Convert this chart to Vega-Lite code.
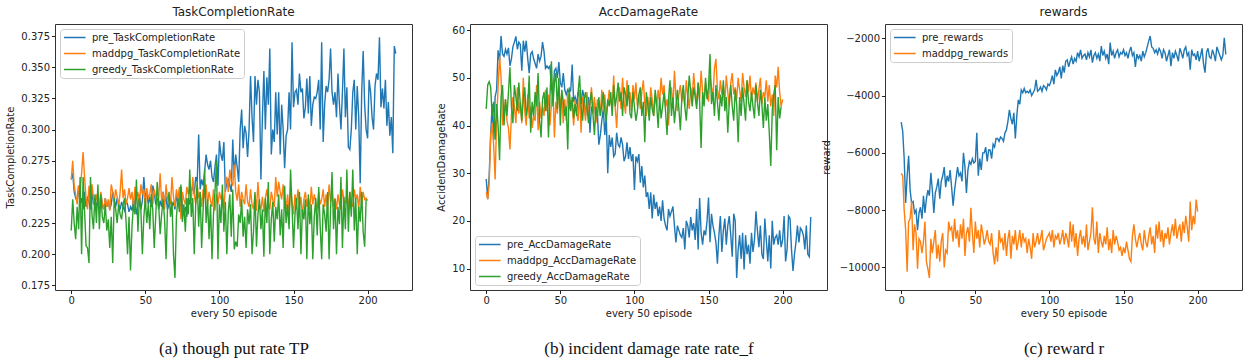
{
"$schema": "https://vega.github.io/schema/vega-lite/v6.json",
"background": "white",
"padding": {"left": 5, "top": 5, "right": 2, "bottom": 2},
"bounds": "flush",
"spacing": 58,
"resolve": {"scale": {"color": "independent"}, "legend": {"color": "independent"}},
"config": {
  "font": "DejaVu Sans",
  "view": {"stroke": "#333333", "strokeWidth": 1},
  "axis": {"grid": false, "domain": false, "tickColor": "#222222", "tickSize": 3.5, "labelFontSize": 10, "labelColor": "#222222", "titleFontSize": 10, "titleFontWeight": "normal", "titleColor": "#222222", "labelPadding": 2},
  "title": {"fontSize": 12, "fontWeight": "normal", "color": "#222222", "frame": "group", "anchor": "middle", "offset": 5},
  "legend": {"title": null, "offset": 5, "padding": 3, "fillColor": "rgba(255,255,255,0.85)", "strokeColor": "#cccccc", "cornerRadius": 3, "symbolType": "M-1,0H3.8", "symbolSize": 81, "symbolStrokeWidth": 1.5, "labelFontSize": 10, "labelOffset": 18, "rowPadding": 5, "labelColor": "#222222"}
},
"datasets": {
"tcr": [
{"e":0,"s":"pre","v":0.260},{"e":1,"s":"pre","v":0.265},{"e":2,"s":"pre","v":0.250},{"e":3,"s":"pre","v":0.245},{"e":4,"s":"pre","v":0.243},{"e":5,"s":"pre","v":0.255},{"e":6,"s":"pre","v":0.240},{"e":7,"s":"pre","v":0.245},{"e":8,"s":"pre","v":0.236},{"e":9,"s":"pre","v":0.250},
{"e":10,"s":"pre","v":0.238},{"e":11,"s":"pre","v":0.245},{"e":12,"s":"pre","v":0.242},{"e":13,"s":"pre","v":0.236},{"e":14,"s":"pre","v":0.250},{"e":15,"s":"pre","v":0.240},{"e":16,"s":"pre","v":0.245},{"e":17,"s":"pre","v":0.238},{"e":18,"s":"pre","v":0.243},{"e":19,"s":"pre","v":0.236},
{"e":20,"s":"pre","v":0.248},{"e":21,"s":"pre","v":0.240},{"e":22,"s":"pre","v":0.236},{"e":23,"s":"pre","v":0.245},{"e":24,"s":"pre","v":0.238},{"e":25,"s":"pre","v":0.242},{"e":26,"s":"pre","v":0.236},{"e":27,"s":"pre","v":0.240},{"e":28,"s":"pre","v":0.250},{"e":29,"s":"pre","v":0.243},
{"e":30,"s":"pre","v":0.238},{"e":31,"s":"pre","v":0.245},{"e":32,"s":"pre","v":0.240},{"e":33,"s":"pre","v":0.236},{"e":34,"s":"pre","v":0.242},{"e":35,"s":"pre","v":0.238},{"e":36,"s":"pre","v":0.235},{"e":37,"s":"pre","v":0.243},{"e":38,"s":"pre","v":0.240},{"e":39,"s":"pre","v":0.234},
{"e":40,"s":"pre","v":0.238},{"e":41,"s":"pre","v":0.235},{"e":42,"s":"pre","v":0.245},{"e":43,"s":"pre","v":0.240},{"e":44,"s":"pre","v":0.232},{"e":45,"s":"pre","v":0.240},{"e":46,"s":"pre","v":0.248},{"e":47,"s":"pre","v":0.236},{"e":48,"s":"pre","v":0.243},{"e":49,"s":"pre","v":0.262},
{"e":50,"s":"pre","v":0.245},{"e":51,"s":"pre","v":0.250},{"e":52,"s":"pre","v":0.240},{"e":53,"s":"pre","v":0.246},{"e":54,"s":"pre","v":0.238},{"e":55,"s":"pre","v":0.255},{"e":56,"s":"pre","v":0.250},{"e":57,"s":"pre","v":0.240},{"e":58,"s":"pre","v":0.245},{"e":59,"s":"pre","v":0.236},
{"e":60,"s":"pre","v":0.243},{"e":61,"s":"pre","v":0.238},{"e":62,"s":"pre","v":0.250},{"e":63,"s":"pre","v":0.242},{"e":64,"s":"pre","v":0.245},{"e":65,"s":"pre","v":0.236},{"e":66,"s":"pre","v":0.240},{"e":67,"s":"pre","v":0.245},{"e":68,"s":"pre","v":0.238},{"e":69,"s":"pre","v":0.242},
{"e":70,"s":"pre","v":0.236},{"e":71,"s":"pre","v":0.248},{"e":72,"s":"pre","v":0.240},{"e":73,"s":"pre","v":0.245},{"e":74,"s":"pre","v":0.254},{"e":75,"s":"pre","v":0.240},{"e":76,"s":"pre","v":0.234},{"e":77,"s":"pre","v":0.238},{"e":78,"s":"pre","v":0.230},{"e":79,"s":"pre","v":0.245},
{"e":80,"s":"pre","v":0.240},{"e":81,"s":"pre","v":0.250},{"e":82,"s":"pre","v":0.255},{"e":83,"s":"pre","v":0.248},{"e":84,"s":"pre","v":0.262},{"e":85,"s":"pre","v":0.258},{"e":86,"s":"pre","v":0.296},{"e":87,"s":"pre","v":0.252},{"e":88,"s":"pre","v":0.260},{"e":89,"s":"pre","v":0.255},
{"e":90,"s":"pre","v":0.266},{"e":91,"s":"pre","v":0.280},{"e":92,"s":"pre","v":0.272},{"e":93,"s":"pre","v":0.268},{"e":94,"s":"pre","v":0.275},{"e":95,"s":"pre","v":0.262},{"e":96,"s":"pre","v":0.258},{"e":97,"s":"pre","v":0.270},{"e":98,"s":"pre","v":0.280},{"e":99,"s":"pre","v":0.255},
{"e":100,"s":"pre","v":0.291},{"e":101,"s":"pre","v":0.280},{"e":102,"s":"pre","v":0.275},{"e":103,"s":"pre","v":0.290},{"e":104,"s":"pre","v":0.250},{"e":105,"s":"pre","v":0.258},{"e":106,"s":"pre","v":0.260},{"e":107,"s":"pre","v":0.255},{"e":108,"s":"pre","v":0.250},{"e":109,"s":"pre","v":0.292},
{"e":110,"s":"pre","v":0.262},{"e":111,"s":"pre","v":0.280},{"e":112,"s":"pre","v":0.270},{"e":113,"s":"pre","v":0.258},{"e":114,"s":"pre","v":0.300},{"e":115,"s":"pre","v":0.316},{"e":116,"s":"pre","v":0.285},{"e":117,"s":"pre","v":0.303},{"e":118,"s":"pre","v":0.297},{"e":119,"s":"pre","v":0.278},
{"e":120,"s":"pre","v":0.300},{"e":121,"s":"pre","v":0.343},{"e":122,"s":"pre","v":0.310},{"e":123,"s":"pre","v":0.290},{"e":124,"s":"pre","v":0.343},{"e":125,"s":"pre","v":0.320},{"e":126,"s":"pre","v":0.340},{"e":127,"s":"pre","v":0.330},{"e":128,"s":"pre","v":0.260},{"e":129,"s":"pre","v":0.310},
{"e":130,"s":"pre","v":0.347},{"e":131,"s":"pre","v":0.300},{"e":132,"s":"pre","v":0.342},{"e":133,"s":"pre","v":0.320},{"e":134,"s":"pre","v":0.365},{"e":135,"s":"pre","v":0.280},{"e":136,"s":"pre","v":0.300},{"e":137,"s":"pre","v":0.290},{"e":138,"s":"pre","v":0.330},{"e":139,"s":"pre","v":0.296},
{"e":140,"s":"pre","v":0.330},{"e":141,"s":"pre","v":0.280},{"e":142,"s":"pre","v":0.320},{"e":143,"s":"pre","v":0.300},{"e":144,"s":"pre","v":0.269},{"e":145,"s":"pre","v":0.295},{"e":146,"s":"pre","v":0.300},{"e":147,"s":"pre","v":0.330},{"e":148,"s":"pre","v":0.300},{"e":149,"s":"pre","v":0.370},
{"e":150,"s":"pre","v":0.318},{"e":151,"s":"pre","v":0.330},{"e":152,"s":"pre","v":0.332},{"e":153,"s":"pre","v":0.320},{"e":154,"s":"pre","v":0.345},{"e":155,"s":"pre","v":0.330},{"e":156,"s":"pre","v":0.333},{"e":157,"s":"pre","v":0.309},{"e":158,"s":"pre","v":0.318},{"e":159,"s":"pre","v":0.341},
{"e":160,"s":"pre","v":0.313},{"e":161,"s":"pre","v":0.343},{"e":162,"s":"pre","v":0.303},{"e":163,"s":"pre","v":0.320},{"e":164,"s":"pre","v":0.326},{"e":165,"s":"pre","v":0.325},{"e":166,"s":"pre","v":0.330},{"e":167,"s":"pre","v":0.340},{"e":168,"s":"pre","v":0.300},{"e":169,"s":"pre","v":0.370},
{"e":170,"s":"pre","v":0.290},{"e":171,"s":"pre","v":0.320},{"e":172,"s":"pre","v":0.335},{"e":173,"s":"pre","v":0.330},{"e":174,"s":"pre","v":0.340},{"e":175,"s":"pre","v":0.365},{"e":176,"s":"pre","v":0.330},{"e":177,"s":"pre","v":0.320},{"e":178,"s":"pre","v":0.330},{"e":179,"s":"pre","v":0.310},
{"e":180,"s":"pre","v":0.345},{"e":181,"s":"pre","v":0.320},{"e":182,"s":"pre","v":0.300},{"e":183,"s":"pre","v":0.330},{"e":184,"s":"pre","v":0.365},{"e":185,"s":"pre","v":0.310},{"e":186,"s":"pre","v":0.334},{"e":187,"s":"pre","v":0.286},{"e":188,"s":"pre","v":0.284},{"e":189,"s":"pre","v":0.300},
{"e":190,"s":"pre","v":0.330},{"e":191,"s":"pre","v":0.340},{"e":192,"s":"pre","v":0.300},{"e":193,"s":"pre","v":0.335},{"e":194,"s":"pre","v":0.310},{"e":195,"s":"pre","v":0.257},{"e":196,"s":"pre","v":0.330},{"e":197,"s":"pre","v":0.363},{"e":198,"s":"pre","v":0.320},{"e":199,"s":"pre","v":0.300},
{"e":200,"s":"pre","v":0.293},{"e":201,"s":"pre","v":0.340},{"e":202,"s":"pre","v":0.330},{"e":203,"s":"pre","v":0.310},{"e":204,"s":"pre","v":0.300},{"e":205,"s":"pre","v":0.335},{"e":206,"s":"pre","v":0.345},{"e":207,"s":"pre","v":0.340},{"e":208,"s":"pre","v":0.374},{"e":209,"s":"pre","v":0.318},
{"e":210,"s":"pre","v":0.333},{"e":211,"s":"pre","v":0.317},{"e":212,"s":"pre","v":0.340},{"e":213,"s":"pre","v":0.303},{"e":214,"s":"pre","v":0.322},{"e":215,"s":"pre","v":0.295},{"e":216,"s":"pre","v":0.310},{"e":217,"s":"pre","v":0.281},{"e":218,"s":"pre","v":0.367},{"e":219,"s":"pre","v":0.361},
{"e":0,"s":"maddpg","v":0.260},{"e":1,"s":"maddpg","v":0.275},{"e":2,"s":"maddpg","v":0.255},{"e":3,"s":"maddpg","v":0.248},{"e":4,"s":"maddpg","v":0.240},{"e":5,"s":"maddpg","v":0.255},{"e":6,"s":"maddpg","v":0.250},{"e":7,"s":"maddpg","v":0.265},{"e":8,"s":"maddpg","v":0.282},{"e":9,"s":"maddpg","v":0.262},
{"e":10,"s":"maddpg","v":0.245},{"e":11,"s":"maddpg","v":0.236},{"e":12,"s":"maddpg","v":0.255},{"e":13,"s":"maddpg","v":0.240},{"e":14,"s":"maddpg","v":0.256},{"e":15,"s":"maddpg","v":0.245},{"e":16,"s":"maddpg","v":0.236},{"e":17,"s":"maddpg","v":0.248},{"e":18,"s":"maddpg","v":0.242},{"e":19,"s":"maddpg","v":0.238},
{"e":20,"s":"maddpg","v":0.250},{"e":21,"s":"maddpg","v":0.240},{"e":22,"s":"maddpg","v":0.236},{"e":23,"s":"maddpg","v":0.245},{"e":24,"s":"maddpg","v":0.238},{"e":25,"s":"maddpg","v":0.244},{"e":26,"s":"maddpg","v":0.235},{"e":27,"s":"maddpg","v":0.256},{"e":28,"s":"maddpg","v":0.250},{"e":29,"s":"maddpg","v":0.242},
{"e":30,"s":"maddpg","v":0.252},{"e":31,"s":"maddpg","v":0.246},{"e":32,"s":"maddpg","v":0.238},{"e":33,"s":"maddpg","v":0.250},{"e":34,"s":"maddpg","v":0.268},{"e":35,"s":"maddpg","v":0.245},{"e":36,"s":"maddpg","v":0.252},{"e":37,"s":"maddpg","v":0.240},{"e":38,"s":"maddpg","v":0.245},{"e":39,"s":"maddpg","v":0.253},
{"e":40,"s":"maddpg","v":0.244},{"e":41,"s":"maddpg","v":0.250},{"e":42,"s":"maddpg","v":0.238},{"e":43,"s":"maddpg","v":0.254},{"e":44,"s":"maddpg","v":0.246},{"e":45,"s":"maddpg","v":0.250},{"e":46,"s":"maddpg","v":0.240},{"e":47,"s":"maddpg","v":0.256},{"e":48,"s":"maddpg","v":0.248},{"e":49,"s":"maddpg","v":0.252},
{"e":50,"s":"maddpg","v":0.238},{"e":51,"s":"maddpg","v":0.253},{"e":52,"s":"maddpg","v":0.245},{"e":53,"s":"maddpg","v":0.248},{"e":54,"s":"maddpg","v":0.256},{"e":55,"s":"maddpg","v":0.240},{"e":56,"s":"maddpg","v":0.252},{"e":57,"s":"maddpg","v":0.246},{"e":58,"s":"maddpg","v":0.240},{"e":59,"s":"maddpg","v":0.244},
{"e":60,"s":"maddpg","v":0.265},{"e":61,"s":"maddpg","v":0.242},{"e":62,"s":"maddpg","v":0.250},{"e":63,"s":"maddpg","v":0.236},{"e":64,"s":"maddpg","v":0.256},{"e":65,"s":"maddpg","v":0.244},{"e":66,"s":"maddpg","v":0.248},{"e":67,"s":"maddpg","v":0.240},{"e":68,"s":"maddpg","v":0.262},{"e":69,"s":"maddpg","v":0.246},
{"e":70,"s":"maddpg","v":0.238},{"e":71,"s":"maddpg","v":0.252},{"e":72,"s":"maddpg","v":0.244},{"e":73,"s":"maddpg","v":0.254},{"e":74,"s":"maddpg","v":0.228},{"e":75,"s":"maddpg","v":0.250},{"e":76,"s":"maddpg","v":0.244},{"e":77,"s":"maddpg","v":0.240},{"e":78,"s":"maddpg","v":0.254},{"e":79,"s":"maddpg","v":0.248},
{"e":80,"s":"maddpg","v":0.255},{"e":81,"s":"maddpg","v":0.243},{"e":82,"s":"maddpg","v":0.262},{"e":83,"s":"maddpg","v":0.248},{"e":84,"s":"maddpg","v":0.240},{"e":85,"s":"maddpg","v":0.255},{"e":86,"s":"maddpg","v":0.245},{"e":87,"s":"maddpg","v":0.250},{"e":88,"s":"maddpg","v":0.238},{"e":89,"s":"maddpg","v":0.252},
{"e":90,"s":"maddpg","v":0.245},{"e":91,"s":"maddpg","v":0.256},{"e":92,"s":"maddpg","v":0.240},{"e":93,"s":"maddpg","v":0.250},{"e":94,"s":"maddpg","v":0.243},{"e":95,"s":"maddpg","v":0.238},{"e":96,"s":"maddpg","v":0.252},{"e":97,"s":"maddpg","v":0.235},{"e":98,"s":"maddpg","v":0.248},{"e":99,"s":"maddpg","v":0.240},
{"e":100,"s":"maddpg","v":0.250},{"e":101,"s":"maddpg","v":0.244},{"e":102,"s":"maddpg","v":0.248},{"e":103,"s":"maddpg","v":0.236},{"e":104,"s":"maddpg","v":0.254},{"e":105,"s":"maddpg","v":0.262},{"e":106,"s":"maddpg","v":0.250},{"e":107,"s":"maddpg","v":0.268},{"e":108,"s":"maddpg","v":0.258},{"e":109,"s":"maddpg","v":0.255},
{"e":110,"s":"maddpg","v":0.272},{"e":111,"s":"maddpg","v":0.250},{"e":112,"s":"maddpg","v":0.243},{"e":113,"s":"maddpg","v":0.256},{"e":114,"s":"maddpg","v":0.238},{"e":115,"s":"maddpg","v":0.250},{"e":116,"s":"maddpg","v":0.244},{"e":117,"s":"maddpg","v":0.240},{"e":118,"s":"maddpg","v":0.256},{"e":119,"s":"maddpg","v":0.242},
{"e":120,"s":"maddpg","v":0.238},{"e":121,"s":"maddpg","v":0.252},{"e":122,"s":"maddpg","v":0.240},{"e":123,"s":"maddpg","v":0.236},{"e":124,"s":"maddpg","v":0.248},{"e":125,"s":"maddpg","v":0.235},{"e":126,"s":"maddpg","v":0.258},{"e":127,"s":"maddpg","v":0.240},{"e":128,"s":"maddpg","v":0.236},{"e":129,"s":"maddpg","v":0.246},
{"e":130,"s":"maddpg","v":0.234},{"e":131,"s":"maddpg","v":0.245},{"e":132,"s":"maddpg","v":0.252},{"e":133,"s":"maddpg","v":0.240},{"e":134,"s":"maddpg","v":0.236},{"e":135,"s":"maddpg","v":0.250},{"e":136,"s":"maddpg","v":0.244},{"e":137,"s":"maddpg","v":0.238},{"e":138,"s":"maddpg","v":0.262},{"e":139,"s":"maddpg","v":0.246},
{"e":140,"s":"maddpg","v":0.258},{"e":141,"s":"maddpg","v":0.250},{"e":142,"s":"maddpg","v":0.244},{"e":143,"s":"maddpg","v":0.256},{"e":144,"s":"maddpg","v":0.240},{"e":145,"s":"maddpg","v":0.236},{"e":146,"s":"maddpg","v":0.248},{"e":147,"s":"maddpg","v":0.234},{"e":148,"s":"maddpg","v":0.252},{"e":149,"s":"maddpg","v":0.242},
{"e":150,"s":"maddpg","v":0.232},{"e":151,"s":"maddpg","v":0.248},{"e":152,"s":"maddpg","v":0.240},{"e":153,"s":"maddpg","v":0.252},{"e":154,"s":"maddpg","v":0.238},{"e":155,"s":"maddpg","v":0.246},{"e":156,"s":"maddpg","v":0.230},{"e":157,"s":"maddpg","v":0.244},{"e":158,"s":"maddpg","v":0.250},{"e":159,"s":"maddpg","v":0.238},
{"e":160,"s":"maddpg","v":0.245},{"e":161,"s":"maddpg","v":0.236},{"e":162,"s":"maddpg","v":0.254},{"e":163,"s":"maddpg","v":0.240},{"e":164,"s":"maddpg","v":0.248},{"e":165,"s":"maddpg","v":0.242},{"e":166,"s":"maddpg","v":0.236},{"e":167,"s":"maddpg","v":0.250},{"e":168,"s":"maddpg","v":0.240},{"e":169,"s":"maddpg","v":0.244},
{"e":170,"s":"maddpg","v":0.252},{"e":171,"s":"maddpg","v":0.238},{"e":172,"s":"maddpg","v":0.248},{"e":173,"s":"maddpg","v":0.236},{"e":174,"s":"maddpg","v":0.256},{"e":175,"s":"maddpg","v":0.242},{"e":176,"s":"maddpg","v":0.250},{"e":177,"s":"maddpg","v":0.238},{"e":178,"s":"maddpg","v":0.245},{"e":179,"s":"maddpg","v":0.236},
{"e":180,"s":"maddpg","v":0.248},{"e":181,"s":"maddpg","v":0.240},{"e":182,"s":"maddpg","v":0.236},{"e":183,"s":"maddpg","v":0.252},{"e":184,"s":"maddpg","v":0.244},{"e":185,"s":"maddpg","v":0.240},{"e":186,"s":"maddpg","v":0.248},{"e":187,"s":"maddpg","v":0.236},{"e":188,"s":"maddpg","v":0.250},{"e":189,"s":"maddpg","v":0.242},
{"e":190,"s":"maddpg","v":0.238},{"e":191,"s":"maddpg","v":0.252},{"e":192,"s":"maddpg","v":0.244},{"e":193,"s":"maddpg","v":0.248},{"e":194,"s":"maddpg","v":0.236},{"e":195,"s":"maddpg","v":0.254},{"e":196,"s":"maddpg","v":0.240},{"e":197,"s":"maddpg","v":0.250},{"e":198,"s":"maddpg","v":0.244},{"e":199,"s":"maddpg","v":0.245},{"e":200,"s":"maddpg","v":0.243},
{"e":0,"s":"greedy","v":0.219},{"e":1,"s":"greedy","v":0.244},{"e":2,"s":"greedy","v":0.225},{"e":3,"s":"greedy","v":0.212},{"e":4,"s":"greedy","v":0.238},{"e":5,"s":"greedy","v":0.220},{"e":6,"s":"greedy","v":0.262},{"e":7,"s":"greedy","v":0.200},{"e":8,"s":"greedy","v":0.262},{"e":9,"s":"greedy","v":0.235},
{"e":10,"s":"greedy","v":0.207},{"e":11,"s":"greedy","v":0.205},{"e":12,"s":"greedy","v":0.193},{"e":13,"s":"greedy","v":0.262},{"e":14,"s":"greedy","v":0.232},{"e":15,"s":"greedy","v":0.220},{"e":16,"s":"greedy","v":0.248},{"e":17,"s":"greedy","v":0.225},{"e":18,"s":"greedy","v":0.256},{"e":19,"s":"greedy","v":0.220},
{"e":20,"s":"greedy","v":0.248},{"e":21,"s":"greedy","v":0.230},{"e":22,"s":"greedy","v":0.225},{"e":23,"s":"greedy","v":0.240},{"e":24,"s":"greedy","v":0.219},{"e":25,"s":"greedy","v":0.228},{"e":26,"s":"greedy","v":0.205},{"e":27,"s":"greedy","v":0.230},{"e":28,"s":"greedy","v":0.193},{"e":29,"s":"greedy","v":0.245},
{"e":30,"s":"greedy","v":0.236},{"e":31,"s":"greedy","v":0.225},{"e":32,"s":"greedy","v":0.240},{"e":33,"s":"greedy","v":0.232},{"e":34,"s":"greedy","v":0.228},{"e":35,"s":"greedy","v":0.240},{"e":36,"s":"greedy","v":0.245},{"e":37,"s":"greedy","v":0.226},{"e":38,"s":"greedy","v":0.200},{"e":39,"s":"greedy","v":0.230},
{"e":40,"s":"greedy","v":0.187},{"e":41,"s":"greedy","v":0.222},{"e":42,"s":"greedy","v":0.240},{"e":43,"s":"greedy","v":0.232},{"e":44,"s":"greedy","v":0.260},{"e":45,"s":"greedy","v":0.218},{"e":46,"s":"greedy","v":0.245},{"e":47,"s":"greedy","v":0.236},{"e":48,"s":"greedy","v":0.200},{"e":49,"s":"greedy","v":0.230},
{"e":50,"s":"greedy","v":0.245},{"e":51,"s":"greedy","v":0.225},{"e":52,"s":"greedy","v":0.240},{"e":53,"s":"greedy","v":0.220},{"e":54,"s":"greedy","v":0.248},{"e":55,"s":"greedy","v":0.236},{"e":56,"s":"greedy","v":0.205},{"e":57,"s":"greedy","v":0.230},{"e":58,"s":"greedy","v":0.258},{"e":59,"s":"greedy","v":0.240},
{"e":60,"s":"greedy","v":0.216},{"e":61,"s":"greedy","v":0.232},{"e":62,"s":"greedy","v":0.244},{"e":63,"s":"greedy","v":0.228},{"e":64,"s":"greedy","v":0.196},{"e":65,"s":"greedy","v":0.238},{"e":66,"s":"greedy","v":0.250},{"e":67,"s":"greedy","v":0.230},{"e":68,"s":"greedy","v":0.242},{"e":69,"s":"greedy","v":0.200},
{"e":70,"s":"greedy","v":0.181},{"e":71,"s":"greedy","v":0.230},{"e":72,"s":"greedy","v":0.245},{"e":73,"s":"greedy","v":0.234},{"e":74,"s":"greedy","v":0.256},{"e":75,"s":"greedy","v":0.226},{"e":76,"s":"greedy","v":0.240},{"e":77,"s":"greedy","v":0.218},{"e":78,"s":"greedy","v":0.245},{"e":79,"s":"greedy","v":0.232},
{"e":80,"s":"greedy","v":0.268},{"e":81,"s":"greedy","v":0.230},{"e":82,"s":"greedy","v":0.245},{"e":83,"s":"greedy","v":0.200},{"e":84,"s":"greedy","v":0.240},{"e":85,"s":"greedy","v":0.258},{"e":86,"s":"greedy","v":0.222},{"e":87,"s":"greedy","v":0.250},{"e":88,"s":"greedy","v":0.205},{"e":89,"s":"greedy","v":0.236},
{"e":90,"s":"greedy","v":0.268},{"e":91,"s":"greedy","v":0.225},{"e":92,"s":"greedy","v":0.244},{"e":93,"s":"greedy","v":0.212},{"e":94,"s":"greedy","v":0.240},{"e":95,"s":"greedy","v":0.196},{"e":96,"s":"greedy","v":0.232},{"e":97,"s":"greedy","v":0.250},{"e":98,"s":"greedy","v":0.275},{"e":99,"s":"greedy","v":0.196},
{"e":100,"s":"greedy","v":0.240},{"e":101,"s":"greedy","v":0.225},{"e":102,"s":"greedy","v":0.256},{"e":103,"s":"greedy","v":0.218},{"e":104,"s":"greedy","v":0.242},{"e":105,"s":"greedy","v":0.200},{"e":106,"s":"greedy","v":0.234},{"e":107,"s":"greedy","v":0.248},{"e":108,"s":"greedy","v":0.214},{"e":109,"s":"greedy","v":0.252},
{"e":110,"s":"greedy","v":0.204},{"e":111,"s":"greedy","v":0.210},{"e":112,"s":"greedy","v":0.206},{"e":113,"s":"greedy","v":0.232},{"e":114,"s":"greedy","v":0.225},{"e":115,"s":"greedy","v":0.244},{"e":116,"s":"greedy","v":0.214},{"e":117,"s":"greedy","v":0.230},{"e":118,"s":"greedy","v":0.205},{"e":119,"s":"greedy","v":0.236},
{"e":120,"s":"greedy","v":0.224},{"e":121,"s":"greedy","v":0.240},{"e":122,"s":"greedy","v":0.200},{"e":123,"s":"greedy","v":0.218},{"e":124,"s":"greedy","v":0.250},{"e":125,"s":"greedy","v":0.206},{"e":126,"s":"greedy","v":0.232},{"e":127,"s":"greedy","v":0.244},{"e":128,"s":"greedy","v":0.220},{"e":129,"s":"greedy","v":0.236},
{"e":130,"s":"greedy","v":0.198},{"e":131,"s":"greedy","v":0.245},{"e":132,"s":"greedy","v":0.225},{"e":133,"s":"greedy","v":0.258},{"e":134,"s":"greedy","v":0.200},{"e":135,"s":"greedy","v":0.228},{"e":136,"s":"greedy","v":0.242},{"e":137,"s":"greedy","v":0.210},{"e":138,"s":"greedy","v":0.238},{"e":139,"s":"greedy","v":0.228},
{"e":140,"s":"greedy","v":0.248},{"e":141,"s":"greedy","v":0.215},{"e":142,"s":"greedy","v":0.236},{"e":143,"s":"greedy","v":0.205},{"e":144,"s":"greedy","v":0.255},{"e":145,"s":"greedy","v":0.225},{"e":146,"s":"greedy","v":0.240},{"e":147,"s":"greedy","v":0.220},{"e":148,"s":"greedy","v":0.268},{"e":149,"s":"greedy","v":0.238},
{"e":150,"s":"greedy","v":0.205},{"e":151,"s":"greedy","v":0.232},{"e":152,"s":"greedy","v":0.245},{"e":153,"s":"greedy","v":0.220},{"e":154,"s":"greedy","v":0.250},{"e":155,"s":"greedy","v":0.200},{"e":156,"s":"greedy","v":0.236},{"e":157,"s":"greedy","v":0.228},{"e":158,"s":"greedy","v":0.244},{"e":159,"s":"greedy","v":0.196},
{"e":160,"s":"greedy","v":0.248},{"e":161,"s":"greedy","v":0.224},{"e":162,"s":"greedy","v":0.240},{"e":163,"s":"greedy","v":0.196},{"e":164,"s":"greedy","v":0.230},{"e":165,"s":"greedy","v":0.245},{"e":166,"s":"greedy","v":0.215},{"e":167,"s":"greedy","v":0.254},{"e":168,"s":"greedy","v":0.222},{"e":169,"s":"greedy","v":0.196},
{"e":170,"s":"greedy","v":0.240},{"e":171,"s":"greedy","v":0.232},{"e":172,"s":"greedy","v":0.218},{"e":173,"s":"greedy","v":0.250},{"e":174,"s":"greedy","v":0.196},{"e":175,"s":"greedy","v":0.236},{"e":176,"s":"greedy","v":0.266},{"e":177,"s":"greedy","v":0.220},{"e":178,"s":"greedy","v":0.244},{"e":179,"s":"greedy","v":0.200},
{"e":180,"s":"greedy","v":0.238},{"e":181,"s":"greedy","v":0.224},{"e":182,"s":"greedy","v":0.262},{"e":183,"s":"greedy","v":0.205},{"e":184,"s":"greedy","v":0.246},{"e":185,"s":"greedy","v":0.220},{"e":186,"s":"greedy","v":0.268},{"e":187,"s":"greedy","v":0.218},{"e":188,"s":"greedy","v":0.250},{"e":189,"s":"greedy","v":0.230},
{"e":190,"s":"greedy","v":0.268},{"e":191,"s":"greedy","v":0.219},{"e":192,"s":"greedy","v":0.245},{"e":193,"s":"greedy","v":0.200},{"e":194,"s":"greedy","v":0.238},{"e":195,"s":"greedy","v":0.226},{"e":196,"s":"greedy","v":0.250},{"e":197,"s":"greedy","v":0.218},{"e":198,"s":"greedy","v":0.206},{"e":199,"s":"greedy","v":0.244}
],
"adr": [
{"e":0,"s":"pre","v":28.8},{"e":1,"s":"pre","v":24.6},{"e":2,"s":"pre","v":29.5},{"e":3,"s":"pre","v":38.0},{"e":4,"s":"pre","v":44.5},{"e":5,"s":"pre","v":37.0},{"e":6,"s":"pre","v":46.0},{"e":7,"s":"pre","v":47.5},{"e":8,"s":"pre","v":55.8},{"e":9,"s":"pre","v":53.5},
{"e":10,"s":"pre","v":58.8},{"e":11,"s":"pre","v":55.0},{"e":12,"s":"pre","v":54.5},{"e":13,"s":"pre","v":56.0},{"e":14,"s":"pre","v":55.0},{"e":15,"s":"pre","v":56.3},{"e":16,"s":"pre","v":52.5},{"e":17,"s":"pre","v":54.0},{"e":18,"s":"pre","v":56.5},{"e":19,"s":"pre","v":57.5},
{"e":20,"s":"pre","v":58.7},{"e":21,"s":"pre","v":56.0},{"e":22,"s":"pre","v":57.5},{"e":23,"s":"pre","v":57.0},{"e":24,"s":"pre","v":51.5},{"e":25,"s":"pre","v":57.8},{"e":26,"s":"pre","v":55.5},{"e":27,"s":"pre","v":57.8},{"e":28,"s":"pre","v":54.0},{"e":29,"s":"pre","v":51.0},
{"e":30,"s":"pre","v":55.0},{"e":31,"s":"pre","v":55.5},{"e":32,"s":"pre","v":54.0},{"e":33,"s":"pre","v":53.0},{"e":34,"s":"pre","v":52.0},{"e":35,"s":"pre","v":55.0},{"e":36,"s":"pre","v":53.5},{"e":37,"s":"pre","v":54.5},{"e":38,"s":"pre","v":57.5},{"e":39,"s":"pre","v":55.5},
{"e":40,"s":"pre","v":52.0},{"e":41,"s":"pre","v":52.5},{"e":42,"s":"pre","v":52.0},{"e":43,"s":"pre","v":52.5},{"e":44,"s":"pre","v":48.0},{"e":45,"s":"pre","v":45.5},{"e":46,"s":"pre","v":51.5},{"e":47,"s":"pre","v":52.0},{"e":48,"s":"pre","v":50.0},{"e":49,"s":"pre","v":53.3},
{"e":50,"s":"pre","v":49.0},{"e":51,"s":"pre","v":48.0},{"e":52,"s":"pre","v":51.0},{"e":53,"s":"pre","v":47.5},{"e":54,"s":"pre","v":46.5},{"e":55,"s":"pre","v":47.5},{"e":56,"s":"pre","v":47.0},{"e":57,"s":"pre","v":47.3},{"e":58,"s":"pre","v":52.8},{"e":59,"s":"pre","v":45.0},
{"e":60,"s":"pre","v":46.0},{"e":61,"s":"pre","v":44.5},{"e":62,"s":"pre","v":47.0},{"e":63,"s":"pre","v":46.0},{"e":64,"s":"pre","v":44.5},{"e":65,"s":"pre","v":47.5},{"e":66,"s":"pre","v":46.0},{"e":67,"s":"pre","v":42.0},{"e":68,"s":"pre","v":45.0},{"e":69,"s":"pre","v":46.0},
{"e":70,"s":"pre","v":38.5},{"e":71,"s":"pre","v":44.0},{"e":72,"s":"pre","v":43.0},{"e":73,"s":"pre","v":45.0},{"e":74,"s":"pre","v":41.0},{"e":75,"s":"pre","v":42.5},{"e":76,"s":"pre","v":36.0},{"e":77,"s":"pre","v":38.0},{"e":78,"s":"pre","v":41.0},{"e":79,"s":"pre","v":43.5},
{"e":80,"s":"pre","v":38.0},{"e":81,"s":"pre","v":42.0},{"e":82,"s":"pre","v":30.0},{"e":83,"s":"pre","v":38.0},{"e":84,"s":"pre","v":35.5},{"e":85,"s":"pre","v":37.5},{"e":86,"s":"pre","v":33.5},{"e":87,"s":"pre","v":34.0},{"e":88,"s":"pre","v":38.5},{"e":89,"s":"pre","v":36.0},
{"e":90,"s":"pre","v":35.5},{"e":91,"s":"pre","v":37.5},{"e":92,"s":"pre","v":36.0},{"e":93,"s":"pre","v":32.5},{"e":94,"s":"pre","v":33.5},{"e":95,"s":"pre","v":36.5},{"e":96,"s":"pre","v":33.0},{"e":97,"s":"pre","v":35.5},{"e":98,"s":"pre","v":32.5},{"e":99,"s":"pre","v":34.0},
{"e":100,"s":"pre","v":26.5},{"e":101,"s":"pre","v":33.5},{"e":102,"s":"pre","v":32.5},{"e":103,"s":"pre","v":34.0},{"e":104,"s":"pre","v":28.0},{"e":105,"s":"pre","v":31.5},{"e":106,"s":"pre","v":27.0},{"e":107,"s":"pre","v":29.5},{"e":108,"s":"pre","v":25.0},{"e":109,"s":"pre","v":26.0},
{"e":110,"s":"pre","v":22.5},{"e":111,"s":"pre","v":26.0},{"e":112,"s":"pre","v":20.5},{"e":113,"s":"pre","v":25.5},{"e":114,"s":"pre","v":22.5},{"e":115,"s":"pre","v":24.0},{"e":116,"s":"pre","v":21.0},{"e":117,"s":"pre","v":23.0},{"e":118,"s":"pre","v":20.0},{"e":119,"s":"pre","v":24.3},
{"e":120,"s":"pre","v":20.5},{"e":121,"s":"pre","v":19.0},{"e":122,"s":"pre","v":18.0},{"e":123,"s":"pre","v":22.5},{"e":124,"s":"pre","v":21.0},{"e":125,"s":"pre","v":22.0},{"e":126,"s":"pre","v":23.0},{"e":127,"s":"pre","v":19.0},{"e":128,"s":"pre","v":15.5},{"e":129,"s":"pre","v":19.0},
{"e":130,"s":"pre","v":18.0},{"e":131,"s":"pre","v":17.0},{"e":132,"s":"pre","v":16.5},{"e":133,"s":"pre","v":18.5},{"e":134,"s":"pre","v":14.0},{"e":135,"s":"pre","v":20.0},{"e":136,"s":"pre","v":19.0},{"e":137,"s":"pre","v":16.5},{"e":138,"s":"pre","v":20.8},{"e":139,"s":"pre","v":18.0},
{"e":140,"s":"pre","v":19.5},{"e":141,"s":"pre","v":16.0},{"e":142,"s":"pre","v":22.5},{"e":143,"s":"pre","v":14.0},{"e":144,"s":"pre","v":24.8},{"e":145,"s":"pre","v":17.5},{"e":146,"s":"pre","v":15.0},{"e":147,"s":"pre","v":18.0},{"e":148,"s":"pre","v":17.0},{"e":149,"s":"pre","v":20.0},
{"e":150,"s":"pre","v":24.9},{"e":151,"s":"pre","v":15.5},{"e":152,"s":"pre","v":21.5},{"e":153,"s":"pre","v":19.0},{"e":154,"s":"pre","v":17.5},{"e":155,"s":"pre","v":15.5},{"e":156,"s":"pre","v":11.0},{"e":157,"s":"pre","v":17.0},{"e":158,"s":"pre","v":21.0},{"e":159,"s":"pre","v":13.5},
{"e":160,"s":"pre","v":18.0},{"e":161,"s":"pre","v":20.5},{"e":162,"s":"pre","v":15.0},{"e":163,"s":"pre","v":19.0},{"e":164,"s":"pre","v":21.0},{"e":165,"s":"pre","v":17.0},{"e":166,"s":"pre","v":12.5},{"e":167,"s":"pre","v":21.5},{"e":168,"s":"pre","v":20.0},{"e":169,"s":"pre","v":8.0},
{"e":170,"s":"pre","v":14.0},{"e":171,"s":"pre","v":17.0},{"e":172,"s":"pre","v":12.0},{"e":173,"s":"pre","v":17.5},{"e":174,"s":"pre","v":9.8},{"e":175,"s":"pre","v":17.0},{"e":176,"s":"pre","v":13.0},{"e":177,"s":"pre","v":15.0},{"e":178,"s":"pre","v":11.0},{"e":179,"s":"pre","v":17.5},
{"e":180,"s":"pre","v":13.5},{"e":181,"s":"pre","v":16.0},{"e":182,"s":"pre","v":22.0},{"e":183,"s":"pre","v":18.0},{"e":184,"s":"pre","v":14.5},{"e":185,"s":"pre","v":19.0},{"e":186,"s":"pre","v":13.0},{"e":187,"s":"pre","v":12.0},{"e":188,"s":"pre","v":20.5},{"e":189,"s":"pre","v":16.0},
{"e":190,"s":"pre","v":11.5},{"e":191,"s":"pre","v":17.0},{"e":192,"s":"pre","v":10.0},{"e":193,"s":"pre","v":20.0},{"e":194,"s":"pre","v":15.0},{"e":195,"s":"pre","v":16.5},{"e":196,"s":"pre","v":17.0},{"e":197,"s":"pre","v":15.0},{"e":198,"s":"pre","v":18.0},{"e":199,"s":"pre","v":14.5},
{"e":200,"s":"pre","v":16.0},{"e":201,"s":"pre","v":21.0},{"e":202,"s":"pre","v":11.5},{"e":203,"s":"pre","v":14.0},{"e":204,"s":"pre","v":21.0},{"e":205,"s":"pre","v":20.5},{"e":206,"s":"pre","v":14.0},{"e":207,"s":"pre","v":9.5},{"e":208,"s":"pre","v":13.0},{"e":209,"s":"pre","v":15.5},
{"e":210,"s":"pre","v":19.0},{"e":211,"s":"pre","v":15.5},{"e":212,"s":"pre","v":18.5},{"e":213,"s":"pre","v":18.0},{"e":214,"s":"pre","v":17.0},{"e":215,"s":"pre","v":14.0},{"e":216,"s":"pre","v":19.0},{"e":217,"s":"pre","v":13.0},{"e":218,"s":"pre","v":12.5},{"e":219,"s":"pre","v":20.8},
{"e":0,"s":"maddpg","v":26.0},{"e":1,"s":"maddpg","v":24.5},{"e":2,"s":"maddpg","v":28.0},{"e":3,"s":"maddpg","v":38.0},{"e":4,"s":"maddpg","v":40.5},{"e":5,"s":"maddpg","v":36.0},{"e":6,"s":"maddpg","v":28.7},{"e":7,"s":"maddpg","v":41.0},{"e":8,"s":"maddpg","v":48.0},{"e":9,"s":"maddpg","v":54.5},
{"e":10,"s":"maddpg","v":50.0},{"e":11,"s":"maddpg","v":40.0},{"e":12,"s":"maddpg","v":43.0},{"e":13,"s":"maddpg","v":45.5},{"e":14,"s":"maddpg","v":41.0},{"e":15,"s":"maddpg","v":39.5},{"e":16,"s":"maddpg","v":35.0},{"e":17,"s":"maddpg","v":42.0},{"e":18,"s":"maddpg","v":46.0},{"e":19,"s":"maddpg","v":44.0},
{"e":20,"s":"maddpg","v":40.5},{"e":21,"s":"maddpg","v":48.0},{"e":22,"s":"maddpg","v":42.5},{"e":23,"s":"maddpg","v":45.0},{"e":24,"s":"maddpg","v":40.5},{"e":25,"s":"maddpg","v":50.0},{"e":26,"s":"maddpg","v":43.0},{"e":27,"s":"maddpg","v":40.0},{"e":28,"s":"maddpg","v":46.5},{"e":29,"s":"maddpg","v":41.5},
{"e":30,"s":"maddpg","v":44.0},{"e":31,"s":"maddpg","v":39.5},{"e":32,"s":"maddpg","v":42.0},{"e":33,"s":"maddpg","v":41.0},{"e":34,"s":"maddpg","v":48.5},{"e":35,"s":"maddpg","v":39.0},{"e":36,"s":"maddpg","v":45.0},{"e":37,"s":"maddpg","v":41.5},{"e":38,"s":"maddpg","v":44.0},{"e":39,"s":"maddpg","v":42.0},
{"e":40,"s":"maddpg","v":47.5},{"e":41,"s":"maddpg","v":43.0},{"e":42,"s":"maddpg","v":46.5},{"e":43,"s":"maddpg","v":40.0},{"e":44,"s":"maddpg","v":44.5},{"e":45,"s":"maddpg","v":49.0},{"e":46,"s":"maddpg","v":37.5},{"e":47,"s":"maddpg","v":45.0},{"e":48,"s":"maddpg","v":42.5},{"e":49,"s":"maddpg","v":48.5},
{"e":50,"s":"maddpg","v":44.0},{"e":51,"s":"maddpg","v":46.5},{"e":52,"s":"maddpg","v":40.5},{"e":53,"s":"maddpg","v":45.5},{"e":54,"s":"maddpg","v":41.0},{"e":55,"s":"maddpg","v":47.0},{"e":56,"s":"maddpg","v":43.5},{"e":57,"s":"maddpg","v":45.0},{"e":58,"s":"maddpg","v":44.0},{"e":59,"s":"maddpg","v":40.0},
{"e":60,"s":"maddpg","v":45.5},{"e":61,"s":"maddpg","v":42.5},{"e":62,"s":"maddpg","v":41.0},{"e":63,"s":"maddpg","v":47.5},{"e":64,"s":"maddpg","v":38.5},{"e":65,"s":"maddpg","v":46.0},{"e":66,"s":"maddpg","v":44.5},{"e":67,"s":"maddpg","v":41.0},{"e":68,"s":"maddpg","v":47.0},{"e":69,"s":"maddpg","v":42.0},
{"e":70,"s":"maddpg","v":44.5},{"e":71,"s":"maddpg","v":48.0},{"e":72,"s":"maddpg","v":42.5},{"e":73,"s":"maddpg","v":46.0},{"e":74,"s":"maddpg","v":40.5},{"e":75,"s":"maddpg","v":45.5},{"e":76,"s":"maddpg","v":44.0},{"e":77,"s":"maddpg","v":42.0},{"e":78,"s":"maddpg","v":47.5},{"e":79,"s":"maddpg","v":43.0},
{"e":80,"s":"maddpg","v":46.5},{"e":81,"s":"maddpg","v":42.0},{"e":82,"s":"maddpg","v":44.5},{"e":83,"s":"maddpg","v":47.5},{"e":84,"s":"maddpg","v":45.0},{"e":85,"s":"maddpg","v":43.5},{"e":86,"s":"maddpg","v":50.5},{"e":87,"s":"maddpg","v":44.0},{"e":88,"s":"maddpg","v":39.5},{"e":89,"s":"maddpg","v":46.0},
{"e":90,"s":"maddpg","v":48.0},{"e":91,"s":"maddpg","v":43.5},{"e":92,"s":"maddpg","v":50.0},{"e":93,"s":"maddpg","v":45.0},{"e":94,"s":"maddpg","v":42.5},{"e":95,"s":"maddpg","v":49.5},{"e":96,"s":"maddpg","v":45.5},{"e":97,"s":"maddpg","v":47.0},{"e":98,"s":"maddpg","v":43.0},{"e":99,"s":"maddpg","v":48.5},
{"e":100,"s":"maddpg","v":45.5},{"e":101,"s":"maddpg","v":49.0},{"e":102,"s":"maddpg","v":44.0},{"e":103,"s":"maddpg","v":46.5},{"e":104,"s":"maddpg","v":43.5},{"e":105,"s":"maddpg","v":47.0},{"e":106,"s":"maddpg","v":49.5},{"e":107,"s":"maddpg","v":44.5},{"e":108,"s":"maddpg","v":42.0},{"e":109,"s":"maddpg","v":46.0},
{"e":110,"s":"maddpg","v":43.0},{"e":111,"s":"maddpg","v":48.0},{"e":112,"s":"maddpg","v":45.5},{"e":113,"s":"maddpg","v":42.0},{"e":114,"s":"maddpg","v":46.5},{"e":115,"s":"maddpg","v":44.0},{"e":116,"s":"maddpg","v":47.5},{"e":117,"s":"maddpg","v":45.0},{"e":118,"s":"maddpg","v":50.0},{"e":119,"s":"maddpg","v":46.5},
{"e":120,"s":"maddpg","v":48.5},{"e":121,"s":"maddpg","v":44.0},{"e":122,"s":"maddpg","v":45.5},{"e":123,"s":"maddpg","v":40.0},{"e":124,"s":"maddpg","v":46.0},{"e":125,"s":"maddpg","v":48.0},{"e":126,"s":"maddpg","v":43.5},{"e":127,"s":"maddpg","v":51.5},{"e":128,"s":"maddpg","v":46.0},{"e":129,"s":"maddpg","v":43.0},
{"e":130,"s":"maddpg","v":46.5},{"e":131,"s":"maddpg","v":48.5},{"e":132,"s":"maddpg","v":45.0},{"e":133,"s":"maddpg","v":47.0},{"e":134,"s":"maddpg","v":44.0},{"e":135,"s":"maddpg","v":49.5},{"e":136,"s":"maddpg","v":46.0},{"e":137,"s":"maddpg","v":43.5},{"e":138,"s":"maddpg","v":48.0},{"e":139,"s":"maddpg","v":45.5},
{"e":140,"s":"maddpg","v":51.0},{"e":141,"s":"maddpg","v":47.0},{"e":142,"s":"maddpg","v":44.5},{"e":143,"s":"maddpg","v":49.0},{"e":144,"s":"maddpg","v":45.5},{"e":145,"s":"maddpg","v":51.5},{"e":146,"s":"maddpg","v":47.0},{"e":147,"s":"maddpg","v":45.0},{"e":148,"s":"maddpg","v":49.0},{"e":149,"s":"maddpg","v":46.5},
{"e":150,"s":"maddpg","v":45.0},{"e":151,"s":"maddpg","v":50.5},{"e":152,"s":"maddpg","v":48.0},{"e":153,"s":"maddpg","v":46.0},{"e":154,"s":"maddpg","v":52.0},{"e":155,"s":"maddpg","v":54.0},{"e":156,"s":"maddpg","v":47.5},{"e":157,"s":"maddpg","v":45.5},{"e":158,"s":"maddpg","v":49.5},{"e":159,"s":"maddpg","v":46.5},
{"e":160,"s":"maddpg","v":48.5},{"e":161,"s":"maddpg","v":45.0},{"e":162,"s":"maddpg","v":50.5},{"e":163,"s":"maddpg","v":47.0},{"e":164,"s":"maddpg","v":44.0},{"e":165,"s":"maddpg","v":49.0},{"e":166,"s":"maddpg","v":51.0},{"e":167,"s":"maddpg","v":46.5},{"e":168,"s":"maddpg","v":48.0},{"e":169,"s":"maddpg","v":45.5},
{"e":170,"s":"maddpg","v":50.0},{"e":171,"s":"maddpg","v":47.5},{"e":172,"s":"maddpg","v":45.0},{"e":173,"s":"maddpg","v":51.0},{"e":174,"s":"maddpg","v":48.0},{"e":175,"s":"maddpg","v":46.0},{"e":176,"s":"maddpg","v":49.5},{"e":177,"s":"maddpg","v":47.0},{"e":178,"s":"maddpg","v":50.5},{"e":179,"s":"maddpg","v":45.5},
{"e":180,"s":"maddpg","v":48.0},{"e":181,"s":"maddpg","v":46.5},{"e":182,"s":"maddpg","v":49.0},{"e":183,"s":"maddpg","v":45.0},{"e":184,"s":"maddpg","v":47.5},{"e":185,"s":"maddpg","v":50.0},{"e":186,"s":"maddpg","v":44.5},{"e":187,"s":"maddpg","v":47.0},{"e":188,"s":"maddpg","v":46.0},{"e":189,"s":"maddpg","v":49.5},
{"e":190,"s":"maddpg","v":45.0},{"e":191,"s":"maddpg","v":48.5},{"e":192,"s":"maddpg","v":44.0},{"e":193,"s":"maddpg","v":46.5},{"e":194,"s":"maddpg","v":42.0},{"e":195,"s":"maddpg","v":50.5},{"e":196,"s":"maddpg","v":48.0},{"e":197,"s":"maddpg","v":52.3},{"e":198,"s":"maddpg","v":47.0},{"e":199,"s":"maddpg","v":44.0},{"e":200,"s":"maddpg","v":45.5},
{"e":0,"s":"greedy","v":43.5},{"e":1,"s":"greedy","v":48.5},{"e":2,"s":"greedy","v":49.2},{"e":3,"s":"greedy","v":48.0},{"e":4,"s":"greedy","v":42.0},{"e":5,"s":"greedy","v":45.0},{"e":6,"s":"greedy","v":37.0},{"e":7,"s":"greedy","v":44.5},{"e":8,"s":"greedy","v":40.0},{"e":9,"s":"greedy","v":32.7},
{"e":10,"s":"greedy","v":46.0},{"e":11,"s":"greedy","v":48.5},{"e":12,"s":"greedy","v":40.0},{"e":13,"s":"greedy","v":45.5},{"e":14,"s":"greedy","v":42.0},{"e":15,"s":"greedy","v":47.0},{"e":16,"s":"greedy","v":52.2},{"e":17,"s":"greedy","v":44.0},{"e":18,"s":"greedy","v":40.5},{"e":19,"s":"greedy","v":48.5},
{"e":20,"s":"greedy","v":46.0},{"e":21,"s":"greedy","v":43.0},{"e":22,"s":"greedy","v":49.0},{"e":23,"s":"greedy","v":44.5},{"e":24,"s":"greedy","v":41.0},{"e":25,"s":"greedy","v":45.5},{"e":26,"s":"greedy","v":48.0},{"e":27,"s":"greedy","v":42.0},{"e":28,"s":"greedy","v":44.0},{"e":29,"s":"greedy","v":50.5},
{"e":30,"s":"greedy","v":38.5},{"e":31,"s":"greedy","v":45.0},{"e":32,"s":"greedy","v":42.0},{"e":33,"s":"greedy","v":47.0},{"e":34,"s":"greedy","v":44.0},{"e":35,"s":"greedy","v":51.0},{"e":36,"s":"greedy","v":41.0},{"e":37,"s":"greedy","v":37.5},{"e":38,"s":"greedy","v":45.5},{"e":39,"s":"greedy","v":47.0},
{"e":40,"s":"greedy","v":43.0},{"e":41,"s":"greedy","v":48.0},{"e":42,"s":"greedy","v":37.5},{"e":43,"s":"greedy","v":46.0},{"e":44,"s":"greedy","v":53.5},{"e":45,"s":"greedy","v":44.0},{"e":46,"s":"greedy","v":49.0},{"e":47,"s":"greedy","v":51.0},{"e":48,"s":"greedy","v":43.5},{"e":49,"s":"greedy","v":50.0},
{"e":50,"s":"greedy","v":40.0},{"e":51,"s":"greedy","v":47.5},{"e":52,"s":"greedy","v":45.0},{"e":53,"s":"greedy","v":42.0},{"e":54,"s":"greedy","v":44.0},{"e":55,"s":"greedy","v":35.0},{"e":56,"s":"greedy","v":48.0},{"e":57,"s":"greedy","v":43.0},{"e":58,"s":"greedy","v":46.0},{"e":59,"s":"greedy","v":41.5},
{"e":60,"s":"greedy","v":44.5},{"e":61,"s":"greedy","v":42.0},{"e":62,"s":"greedy","v":47.0},{"e":63,"s":"greedy","v":50.5},{"e":64,"s":"greedy","v":44.0},{"e":65,"s":"greedy","v":41.0},{"e":66,"s":"greedy","v":45.5},{"e":67,"s":"greedy","v":47.0},{"e":68,"s":"greedy","v":44.0},{"e":69,"s":"greedy","v":40.5},
{"e":70,"s":"greedy","v":45.0},{"e":71,"s":"greedy","v":47.0},{"e":72,"s":"greedy","v":42.5},{"e":73,"s":"greedy","v":38.0},{"e":74,"s":"greedy","v":44.0},{"e":75,"s":"greedy","v":41.5},{"e":76,"s":"greedy","v":46.0},{"e":77,"s":"greedy","v":42.0},{"e":78,"s":"greedy","v":44.5},{"e":79,"s":"greedy","v":47.0},
{"e":80,"s":"greedy","v":43.0},{"e":81,"s":"greedy","v":41.0},{"e":82,"s":"greedy","v":45.5},{"e":83,"s":"greedy","v":44.0},{"e":84,"s":"greedy","v":47.0},{"e":85,"s":"greedy","v":42.0},{"e":86,"s":"greedy","v":48.5},{"e":87,"s":"greedy","v":44.0},{"e":88,"s":"greedy","v":46.0},{"e":89,"s":"greedy","v":49.0},
{"e":90,"s":"greedy","v":45.0},{"e":91,"s":"greedy","v":47.0},{"e":92,"s":"greedy","v":42.0},{"e":93,"s":"greedy","v":48.0},{"e":94,"s":"greedy","v":46.5},{"e":95,"s":"greedy","v":44.0},{"e":96,"s":"greedy","v":48.5},{"e":97,"s":"greedy","v":42.5},{"e":98,"s":"greedy","v":41.5},{"e":99,"s":"greedy","v":47.0},
{"e":100,"s":"greedy","v":44.0},{"e":101,"s":"greedy","v":41.0},{"e":102,"s":"greedy","v":43.0},{"e":103,"s":"greedy","v":46.5},{"e":104,"s":"greedy","v":48.0},{"e":105,"s":"greedy","v":42.0},{"e":106,"s":"greedy","v":45.0},{"e":107,"s":"greedy","v":36.5},{"e":108,"s":"greedy","v":47.0},{"e":109,"s":"greedy","v":44.5},
{"e":110,"s":"greedy","v":41.0},{"e":111,"s":"greedy","v":46.0},{"e":112,"s":"greedy","v":43.5},{"e":113,"s":"greedy","v":42.0},{"e":114,"s":"greedy","v":47.5},{"e":115,"s":"greedy","v":44.5},{"e":116,"s":"greedy","v":39.5},{"e":117,"s":"greedy","v":46.0},{"e":118,"s":"greedy","v":41.5},{"e":119,"s":"greedy","v":44.0},
{"e":120,"s":"greedy","v":47.0},{"e":121,"s":"greedy","v":43.0},{"e":122,"s":"greedy","v":38.0},{"e":123,"s":"greedy","v":45.5},{"e":124,"s":"greedy","v":49.5},{"e":125,"s":"greedy","v":42.0},{"e":126,"s":"greedy","v":46.0},{"e":127,"s":"greedy","v":40.5},{"e":128,"s":"greedy","v":44.0},{"e":129,"s":"greedy","v":47.5},
{"e":130,"s":"greedy","v":43.5},{"e":131,"s":"greedy","v":39.0},{"e":132,"s":"greedy","v":46.0},{"e":133,"s":"greedy","v":48.5},{"e":134,"s":"greedy","v":44.0},{"e":135,"s":"greedy","v":41.0},{"e":136,"s":"greedy","v":45.5},{"e":137,"s":"greedy","v":50.5},{"e":138,"s":"greedy","v":47.0},{"e":139,"s":"greedy","v":44.0},
{"e":140,"s":"greedy","v":48.0},{"e":141,"s":"greedy","v":46.0},{"e":142,"s":"greedy","v":43.5},{"e":143,"s":"greedy","v":49.0},{"e":144,"s":"greedy","v":45.0},{"e":145,"s":"greedy","v":35.3},{"e":146,"s":"greedy","v":47.0},{"e":147,"s":"greedy","v":44.0},{"e":148,"s":"greedy","v":50.0},{"e":149,"s":"greedy","v":45.5},
{"e":150,"s":"greedy","v":48.0},{"e":151,"s":"greedy","v":55.0},{"e":152,"s":"greedy","v":44.5},{"e":153,"s":"greedy","v":47.0},{"e":154,"s":"greedy","v":42.0},{"e":155,"s":"greedy","v":48.5},{"e":156,"s":"greedy","v":45.0},{"e":157,"s":"greedy","v":41.0},{"e":158,"s":"greedy","v":46.5},{"e":159,"s":"greedy","v":44.0},
{"e":160,"s":"greedy","v":49.5},{"e":161,"s":"greedy","v":43.0},{"e":162,"s":"greedy","v":46.0},{"e":163,"s":"greedy","v":38.5},{"e":164,"s":"greedy","v":45.0},{"e":165,"s":"greedy","v":48.5},{"e":166,"s":"greedy","v":44.0},{"e":167,"s":"greedy","v":41.0},{"e":168,"s":"greedy","v":47.5},{"e":169,"s":"greedy","v":44.5},
{"e":170,"s":"greedy","v":36.5},{"e":171,"s":"greedy","v":46.0},{"e":172,"s":"greedy","v":42.0},{"e":173,"s":"greedy","v":48.0},{"e":174,"s":"greedy","v":44.5},{"e":175,"s":"greedy","v":41.0},{"e":176,"s":"greedy","v":49.5},{"e":177,"s":"greedy","v":45.0},{"e":178,"s":"greedy","v":43.0},{"e":179,"s":"greedy","v":47.0},
{"e":180,"s":"greedy","v":44.0},{"e":181,"s":"greedy","v":41.5},{"e":182,"s":"greedy","v":48.5},{"e":183,"s":"greedy","v":45.0},{"e":184,"s":"greedy","v":42.0},{"e":185,"s":"greedy","v":47.5},{"e":186,"s":"greedy","v":44.5},{"e":187,"s":"greedy","v":39.5},{"e":188,"s":"greedy","v":46.0},{"e":189,"s":"greedy","v":41.0},
{"e":190,"s":"greedy","v":44.5},{"e":191,"s":"greedy","v":38.5},{"e":192,"s":"greedy","v":31.5},{"e":193,"s":"greedy","v":43.0},{"e":194,"s":"greedy","v":46.5},{"e":195,"s":"greedy","v":48.5},{"e":196,"s":"greedy","v":34.8},{"e":197,"s":"greedy","v":46.0},{"e":198,"s":"greedy","v":41.5},{"e":199,"s":"greedy","v":44.0}
],
"rew": [
{"e":0,"s":"pre","v":-4930},{"e":1,"s":"pre","v":-5250},{"e":2,"s":"pre","v":-6200},{"e":3,"s":"pre","v":-7750},{"e":4,"s":"pre","v":-6800},{"e":5,"s":"pre","v":-6100},{"e":6,"s":"pre","v":-7300},{"e":7,"s":"pre","v":-7750},{"e":8,"s":"pre","v":-7700},{"e":9,"s":"pre","v":-8100},
{"e":10,"s":"pre","v":-8000},{"e":11,"s":"pre","v":-8700},{"e":12,"s":"pre","v":-8100},{"e":13,"s":"pre","v":-7900},{"e":14,"s":"pre","v":-8300},{"e":15,"s":"pre","v":-7500},{"e":16,"s":"pre","v":-8100},{"e":17,"s":"pre","v":-7600},{"e":18,"s":"pre","v":-7300},{"e":19,"s":"pre","v":-7500},
{"e":20,"s":"pre","v":-6700},{"e":21,"s":"pre","v":-7300},{"e":22,"s":"pre","v":-8100},{"e":23,"s":"pre","v":-7400},{"e":24,"s":"pre","v":-7200},{"e":25,"s":"pre","v":-6900},{"e":26,"s":"pre","v":-7600},{"e":27,"s":"pre","v":-7000},{"e":28,"s":"pre","v":-6800},{"e":29,"s":"pre","v":-6500},
{"e":30,"s":"pre","v":-7200},{"e":31,"s":"pre","v":-6800},{"e":32,"s":"pre","v":-7000},{"e":33,"s":"pre","v":-6600},{"e":34,"s":"pre","v":-7200},{"e":35,"s":"pre","v":-7850},{"e":36,"s":"pre","v":-7300},{"e":37,"s":"pre","v":-6900},{"e":38,"s":"pre","v":-6500},{"e":39,"s":"pre","v":-6800},
{"e":40,"s":"pre","v":-6700},{"e":41,"s":"pre","v":-7000},{"e":42,"s":"pre","v":-6000},{"e":43,"s":"pre","v":-6500},{"e":44,"s":"pre","v":-7400},{"e":45,"s":"pre","v":-6600},{"e":46,"s":"pre","v":-6300},{"e":47,"s":"pre","v":-6400},{"e":48,"s":"pre","v":-6200},{"e":49,"s":"pre","v":-6350},
{"e":50,"s":"pre","v":-6300},{"e":51,"s":"pre","v":-5300},{"e":52,"s":"pre","v":-6800},{"e":53,"s":"pre","v":-6200},{"e":54,"s":"pre","v":-6600},{"e":55,"s":"pre","v":-6000},{"e":56,"s":"pre","v":-6000},{"e":57,"s":"pre","v":-5800},{"e":58,"s":"pre","v":-6300},{"e":59,"s":"pre","v":-5900},
{"e":60,"s":"pre","v":-5900},{"e":61,"s":"pre","v":-6200},{"e":62,"s":"pre","v":-5700},{"e":63,"s":"pre","v":-5800},{"e":64,"s":"pre","v":-5500},{"e":65,"s":"pre","v":-5500},{"e":66,"s":"pre","v":-5600},{"e":67,"s":"pre","v":-5450},{"e":68,"s":"pre","v":-5500},{"e":69,"s":"pre","v":-5600},
{"e":70,"s":"pre","v":-5300},{"e":71,"s":"pre","v":-5200},{"e":72,"s":"pre","v":-4900},{"e":73,"s":"pre","v":-4500},{"e":74,"s":"pre","v":-4800},{"e":75,"s":"pre","v":-5000},{"e":76,"s":"pre","v":-4600},{"e":77,"s":"pre","v":-5500},{"e":78,"s":"pre","v":-4700},{"e":79,"s":"pre","v":-4150},
{"e":80,"s":"pre","v":-4300},{"e":81,"s":"pre","v":-3800},{"e":82,"s":"pre","v":-3900},{"e":83,"s":"pre","v":-3750},{"e":84,"s":"pre","v":-3900},{"e":85,"s":"pre","v":-3850},{"e":86,"s":"pre","v":-3900},{"e":87,"s":"pre","v":-3800},{"e":88,"s":"pre","v":-4000},{"e":89,"s":"pre","v":-3900},
{"e":90,"s":"pre","v":-3800},{"e":91,"s":"pre","v":-3450},{"e":92,"s":"pre","v":-3850},{"e":93,"s":"pre","v":-3800},{"e":94,"s":"pre","v":-3700},{"e":95,"s":"pre","v":-3850},{"e":96,"s":"pre","v":-3650},{"e":97,"s":"pre","v":-3700},{"e":98,"s":"pre","v":-3800},{"e":99,"s":"pre","v":-3600},
{"e":100,"s":"pre","v":-3650},{"e":101,"s":"pre","v":-3500},{"e":102,"s":"pre","v":-3300},{"e":103,"s":"pre","v":-3600},{"e":104,"s":"pre","v":-3100},{"e":105,"s":"pre","v":-3300},{"e":106,"s":"pre","v":-3200},{"e":107,"s":"pre","v":-3000},{"e":108,"s":"pre","v":-3400},{"e":109,"s":"pre","v":-2950},
{"e":110,"s":"pre","v":-3200},{"e":111,"s":"pre","v":-2800},{"e":112,"s":"pre","v":-2750},{"e":113,"s":"pre","v":-3000},{"e":114,"s":"pre","v":-2800},{"e":115,"s":"pre","v":-2650},{"e":116,"s":"pre","v":-2900},{"e":117,"s":"pre","v":-2700},{"e":118,"s":"pre","v":-2800},{"e":119,"s":"pre","v":-2500},
{"e":120,"s":"pre","v":-2650},{"e":121,"s":"pre","v":-2400},{"e":122,"s":"pre","v":-2700},{"e":123,"s":"pre","v":-2600},{"e":124,"s":"pre","v":-2550},{"e":125,"s":"pre","v":-2750},{"e":126,"s":"pre","v":-2500},{"e":127,"s":"pre","v":-2650},{"e":128,"s":"pre","v":-2400},{"e":129,"s":"pre","v":-2850},
{"e":130,"s":"pre","v":-2600},{"e":131,"s":"pre","v":-2500},{"e":132,"s":"pre","v":-2700},{"e":133,"s":"pre","v":-2550},{"e":134,"s":"pre","v":-2800},{"e":135,"s":"pre","v":-2270},{"e":136,"s":"pre","v":-2600},{"e":137,"s":"pre","v":-2450},{"e":138,"s":"pre","v":-2700},{"e":139,"s":"pre","v":-2550},
{"e":140,"s":"pre","v":-2900},{"e":141,"s":"pre","v":-2150},{"e":142,"s":"pre","v":-2600},{"e":143,"s":"pre","v":-2450},{"e":144,"s":"pre","v":-2700},{"e":145,"s":"pre","v":-2500},{"e":146,"s":"pre","v":-2400},{"e":147,"s":"pre","v":-2650},{"e":148,"s":"pre","v":-2500},{"e":149,"s":"pre","v":-2550},
{"e":150,"s":"pre","v":-2400},{"e":151,"s":"pre","v":-2600},{"e":152,"s":"pre","v":-2500},{"e":153,"s":"pre","v":-2700},{"e":154,"s":"pre","v":-2450},{"e":155,"s":"pre","v":-2300},{"e":156,"s":"pre","v":-2600},{"e":157,"s":"pre","v":-2500},{"e":158,"s":"pre","v":-3000},{"e":159,"s":"pre","v":-2550},
{"e":160,"s":"pre","v":-2700},{"e":161,"s":"pre","v":-2600},{"e":162,"s":"pre","v":-2800},{"e":163,"s":"pre","v":-2450},{"e":164,"s":"pre","v":-2650},{"e":165,"s":"pre","v":-2500},{"e":166,"s":"pre","v":-2300},{"e":167,"s":"pre","v":-2100},{"e":168,"s":"pre","v":-1920},{"e":169,"s":"pre","v":-2300},
{"e":170,"s":"pre","v":-2350},{"e":171,"s":"pre","v":-2500},{"e":172,"s":"pre","v":-2400},{"e":173,"s":"pre","v":-2550},{"e":174,"s":"pre","v":-2350},{"e":175,"s":"pre","v":-2450},{"e":176,"s":"pre","v":-2700},{"e":177,"s":"pre","v":-2400},{"e":178,"s":"pre","v":-2500},{"e":179,"s":"pre","v":-2800},
{"e":180,"s":"pre","v":-2600},{"e":181,"s":"pre","v":-2400},{"e":182,"s":"pre","v":-2970},{"e":183,"s":"pre","v":-2500},{"e":184,"s":"pre","v":-2700},{"e":185,"s":"pre","v":-2450},{"e":186,"s":"pre","v":-2600},{"e":187,"s":"pre","v":-2800},{"e":188,"s":"pre","v":-2350},{"e":189,"s":"pre","v":-2500},
{"e":190,"s":"pre","v":-2700},{"e":191,"s":"pre","v":-2400},{"e":192,"s":"pre","v":-2300},{"e":193,"s":"pre","v":-2600},{"e":194,"s":"pre","v":-2500},{"e":195,"s":"pre","v":-3100},{"e":196,"s":"pre","v":-2400},{"e":197,"s":"pre","v":-2600},{"e":198,"s":"pre","v":-2550},{"e":199,"s":"pre","v":-2750},
{"e":200,"s":"pre","v":-2450},{"e":201,"s":"pre","v":-2800},{"e":202,"s":"pre","v":-2600},{"e":203,"s":"pre","v":-2350},{"e":204,"s":"pre","v":-2900},{"e":205,"s":"pre","v":-3200},{"e":206,"s":"pre","v":-2500},{"e":207,"s":"pre","v":-2350},{"e":208,"s":"pre","v":-2650},{"e":209,"s":"pre","v":-2700},
{"e":210,"s":"pre","v":-2400},{"e":211,"s":"pre","v":-2550},{"e":212,"s":"pre","v":-2800},{"e":213,"s":"pre","v":-2300},{"e":214,"s":"pre","v":-2450},{"e":215,"s":"pre","v":-2600},{"e":216,"s":"pre","v":-2750},{"e":217,"s":"pre","v":-2600},{"e":218,"s":"pre","v":-1980},{"e":219,"s":"pre","v":-2560},
{"e":0,"s":"maddpg","v":-6720},{"e":1,"s":"maddpg","v":-6800},{"e":2,"s":"maddpg","v":-8000},{"e":3,"s":"maddpg","v":-8700},{"e":4,"s":"maddpg","v":-10150},{"e":5,"s":"maddpg","v":-8400},{"e":6,"s":"maddpg","v":-8300},{"e":7,"s":"maddpg","v":-7700},{"e":8,"s":"maddpg","v":-9400},{"e":9,"s":"maddpg","v":-8500},
{"e":10,"s":"maddpg","v":-8800},{"e":11,"s":"maddpg","v":-10050},{"e":12,"s":"maddpg","v":-9000},{"e":13,"s":"maddpg","v":-9100},{"e":14,"s":"maddpg","v":-9500},{"e":15,"s":"maddpg","v":-9100},{"e":16,"s":"maddpg","v":-8400},{"e":17,"s":"maddpg","v":-9800},{"e":18,"s":"maddpg","v":-10050},{"e":19,"s":"maddpg","v":-10370},
{"e":20,"s":"maddpg","v":-9000},{"e":21,"s":"maddpg","v":-9500},{"e":22,"s":"maddpg","v":-9100},{"e":23,"s":"maddpg","v":-8700},{"e":24,"s":"maddpg","v":-9700},{"e":25,"s":"maddpg","v":-9200},{"e":26,"s":"maddpg","v":-9800},{"e":27,"s":"maddpg","v":-9100},{"e":28,"s":"maddpg","v":-8800},{"e":29,"s":"maddpg","v":-10000},
{"e":30,"s":"maddpg","v":-9400},{"e":31,"s":"maddpg","v":-9500},{"e":32,"s":"maddpg","v":-8400},{"e":33,"s":"maddpg","v":-8700},{"e":34,"s":"maddpg","v":-8600},{"e":35,"s":"maddpg","v":-9100},{"e":36,"s":"maddpg","v":-8300},{"e":37,"s":"maddpg","v":-9000},{"e":38,"s":"maddpg","v":-8700},{"e":39,"s":"maddpg","v":-9300},
{"e":40,"s":"maddpg","v":-8500},{"e":41,"s":"maddpg","v":-9000},{"e":42,"s":"maddpg","v":-8300},{"e":43,"s":"maddpg","v":-9600},{"e":44,"s":"maddpg","v":-8800},{"e":45,"s":"maddpg","v":-8600},{"e":46,"s":"maddpg","v":-9100},{"e":47,"s":"maddpg","v":-7920},{"e":48,"s":"maddpg","v":-8800},{"e":49,"s":"maddpg","v":-9500},
{"e":50,"s":"maddpg","v":-8400},{"e":51,"s":"maddpg","v":-9000},{"e":52,"s":"maddpg","v":-8700},{"e":53,"s":"maddpg","v":-9300},{"e":54,"s":"maddpg","v":-8500},{"e":55,"s":"maddpg","v":-8800},{"e":56,"s":"maddpg","v":-9200},{"e":57,"s":"maddpg","v":-9000},{"e":58,"s":"maddpg","v":-8700},{"e":59,"s":"maddpg","v":-9100},
{"e":60,"s":"maddpg","v":-9200},{"e":61,"s":"maddpg","v":-8800},{"e":62,"s":"maddpg","v":-9500},{"e":63,"s":"maddpg","v":-9900},{"e":64,"s":"maddpg","v":-9300},{"e":65,"s":"maddpg","v":-9800},{"e":66,"s":"maddpg","v":-8700},{"e":67,"s":"maddpg","v":-9100},{"e":68,"s":"maddpg","v":-9000},{"e":69,"s":"maddpg","v":-9400},
{"e":70,"s":"maddpg","v":-8800},{"e":71,"s":"maddpg","v":-9600},{"e":72,"s":"maddpg","v":-9000},{"e":73,"s":"maddpg","v":-8700},{"e":74,"s":"maddpg","v":-9700},{"e":75,"s":"maddpg","v":-8900},{"e":76,"s":"maddpg","v":-9200},{"e":77,"s":"maddpg","v":-8700},{"e":78,"s":"maddpg","v":-9400},{"e":79,"s":"maddpg","v":-9100},
{"e":80,"s":"maddpg","v":-8700},{"e":81,"s":"maddpg","v":-9300},{"e":82,"s":"maddpg","v":-8800},{"e":83,"s":"maddpg","v":-9100},{"e":84,"s":"maddpg","v":-9000},{"e":85,"s":"maddpg","v":-9500},{"e":86,"s":"maddpg","v":-9000},{"e":87,"s":"maddpg","v":-9300},{"e":88,"s":"maddpg","v":-9700},{"e":89,"s":"maddpg","v":-8800},
{"e":90,"s":"maddpg","v":-9300},{"e":91,"s":"maddpg","v":-9100},{"e":92,"s":"maddpg","v":-8800},{"e":93,"s":"maddpg","v":-9200},{"e":94,"s":"maddpg","v":-9000},{"e":95,"s":"maddpg","v":-8700},{"e":96,"s":"maddpg","v":-9400},{"e":97,"s":"maddpg","v":-9200},{"e":98,"s":"maddpg","v":-9000},{"e":99,"s":"maddpg","v":-8900},
{"e":100,"s":"maddpg","v":-8800},{"e":101,"s":"maddpg","v":-9100},{"e":102,"s":"maddpg","v":-8700},{"e":103,"s":"maddpg","v":-9300},{"e":104,"s":"maddpg","v":-8900},{"e":105,"s":"maddpg","v":-9000},{"e":106,"s":"maddpg","v":-8800},{"e":107,"s":"maddpg","v":-9200},{"e":108,"s":"maddpg","v":-9000},{"e":109,"s":"maddpg","v":-8700},
{"e":110,"s":"maddpg","v":-9200},{"e":111,"s":"maddpg","v":-8800},{"e":112,"s":"maddpg","v":-9000},{"e":113,"s":"maddpg","v":-9300},{"e":114,"s":"maddpg","v":-8400},{"e":115,"s":"maddpg","v":-9100},{"e":116,"s":"maddpg","v":-8500},{"e":117,"s":"maddpg","v":-9300},{"e":118,"s":"maddpg","v":-8800},{"e":119,"s":"maddpg","v":-9600},
{"e":120,"s":"maddpg","v":-9000},{"e":121,"s":"maddpg","v":-8700},{"e":122,"s":"maddpg","v":-9200},{"e":123,"s":"maddpg","v":-8900},{"e":124,"s":"maddpg","v":-9300},{"e":125,"s":"maddpg","v":-8500},{"e":126,"s":"maddpg","v":-9400},{"e":127,"s":"maddpg","v":-9100},{"e":128,"s":"maddpg","v":-8800},{"e":129,"s":"maddpg","v":-7900},
{"e":130,"s":"maddpg","v":-9000},{"e":131,"s":"maddpg","v":-9200},{"e":132,"s":"maddpg","v":-8400},{"e":133,"s":"maddpg","v":-9500},{"e":134,"s":"maddpg","v":-8800},{"e":135,"s":"maddpg","v":-9100},{"e":136,"s":"maddpg","v":-9300},{"e":137,"s":"maddpg","v":-8900},{"e":138,"s":"maddpg","v":-9200},{"e":139,"s":"maddpg","v":-8600},
{"e":140,"s":"maddpg","v":-9400},{"e":141,"s":"maddpg","v":-9000},{"e":142,"s":"maddpg","v":-9500},{"e":143,"s":"maddpg","v":-8700},{"e":144,"s":"maddpg","v":-9200},{"e":145,"s":"maddpg","v":-8900},{"e":146,"s":"maddpg","v":-9100},{"e":147,"s":"maddpg","v":-9400},{"e":148,"s":"maddpg","v":-9300},{"e":149,"s":"maddpg","v":-9600},
{"e":150,"s":"maddpg","v":-9300},{"e":151,"s":"maddpg","v":-9500},{"e":152,"s":"maddpg","v":-9100},{"e":153,"s":"maddpg","v":-9400},{"e":154,"s":"maddpg","v":-9700},{"e":155,"s":"maddpg","v":-9800},{"e":156,"s":"maddpg","v":-8900},{"e":157,"s":"maddpg","v":-8500},{"e":158,"s":"maddpg","v":-9000},{"e":159,"s":"maddpg","v":-9300},
{"e":160,"s":"maddpg","v":-9000},{"e":161,"s":"maddpg","v":-8800},{"e":162,"s":"maddpg","v":-9200},{"e":163,"s":"maddpg","v":-9400},{"e":164,"s":"maddpg","v":-8700},{"e":165,"s":"maddpg","v":-9100},{"e":166,"s":"maddpg","v":-9300},{"e":167,"s":"maddpg","v":-8900},{"e":168,"s":"maddpg","v":-8600},{"e":169,"s":"maddpg","v":-9200},
{"e":170,"s":"maddpg","v":-8900},{"e":171,"s":"maddpg","v":-9500},{"e":172,"s":"maddpg","v":-8500},{"e":173,"s":"maddpg","v":-9000},{"e":174,"s":"maddpg","v":-8400},{"e":175,"s":"maddpg","v":-9100},{"e":176,"s":"maddpg","v":-8700},{"e":177,"s":"maddpg","v":-9300},{"e":178,"s":"maddpg","v":-8800},{"e":179,"s":"maddpg","v":-9000},
{"e":180,"s":"maddpg","v":-8600},{"e":181,"s":"maddpg","v":-9200},{"e":182,"s":"maddpg","v":-8800},{"e":183,"s":"maddpg","v":-8500},{"e":184,"s":"maddpg","v":-8900},{"e":185,"s":"maddpg","v":-8300},{"e":186,"s":"maddpg","v":-9000},{"e":187,"s":"maddpg","v":-8700},{"e":188,"s":"maddpg","v":-8500},{"e":189,"s":"maddpg","v":-9100},
{"e":190,"s":"maddpg","v":-8400},{"e":191,"s":"maddpg","v":-8800},{"e":192,"s":"maddpg","v":-8200},{"e":193,"s":"maddpg","v":-8600},{"e":194,"s":"maddpg","v":-9100},{"e":195,"s":"maddpg","v":-7700},{"e":196,"s":"maddpg","v":-8700},{"e":197,"s":"maddpg","v":-8200},{"e":198,"s":"maddpg","v":-8500},{"e":199,"s":"maddpg","v":-7630},{"e":200,"s":"maddpg","v":-8050}
]
},
"hconcat": [
{
 "width": 357, "height": 266,
 "title": "TaskCompletionRate",
 "data": {"name": "tcr"},
 "resolve": {"axis": {"x": "independent"}},
 "layer": [
  {"mark": {"type": "line", "strokeWidth": 1.4},
   "encoding": {
    "x": {"field": "e", "type": "quantitative", "scale": {"domain": [-10.95, 229.95], "nice": false, "zero": false}, "axis": {"values": [0, 50, 100, 150, 200], "title": "every 50 episode", "titlePadding": 3}},
    "y": {"field": "v", "type": "quantitative", "scale": {"domain": [0.1713, 0.3847], "nice": false, "zero": false}, "axis": {"values": [0.175, 0.2, 0.225, 0.25, 0.275, 0.3, 0.325, 0.35, 0.375], "format": ".3f", "title": "TaskCompletionRate", "titlePadding": 5}},
    "color": {"field": "s", "type": "nominal", "scale": {"domain": ["pre", "maddpg", "greedy"], "range": ["#1f77b4", "#ff7f0e", "#2ca02c"]}, "legend": {"orient": "top-left", "title": null, "labelExpr": "datum.label + '_TaskCompletionRate'"}}
   }},
  {"mark": {"type": "rule", "opacity": 0},
   "encoding": {
    "x": {"aggregate": "min", "field": "e", "type": "quantitative", "scale": {"domain": [-10.95, 229.95], "nice": false, "zero": false}, "axis": {"orient": "bottom", "title": "(a) though put rate TP", "labels": false, "ticks": false, "domain": false, "titleFont": "Liberation Serif", "titleFontSize": 17, "titleColor": "#111111", "titlePadding": 50}}
   }}
 ]
},
{
 "width": 357, "height": 266,
 "title": "AccDamageRate",
 "data": {"name": "adr"},
 "resolve": {"axis": {"x": "independent"}},
 "layer": [
  {"mark": {"type": "line", "strokeWidth": 1.4},
   "encoding": {
    "x": {"field": "e", "type": "quantitative", "scale": {"domain": [-10.95, 229.95], "nice": false, "zero": false}, "axis": {"values": [0, 50, 100, 150, 200], "title": "every 50 episode", "titlePadding": 3}},
    "y": {"field": "v", "type": "quantitative", "scale": {"domain": [5.5, 61.3], "nice": false, "zero": false}, "axis": {"values": [10, 20, 30, 40, 50, 60], "format": "d", "title": "AccidentDamageRate", "titlePadding": 5}},
    "color": {"field": "s", "type": "nominal", "scale": {"domain": ["pre", "maddpg", "greedy"], "range": ["#1f77b4", "#ff7f0e", "#2ca02c"]}, "legend": {"orient": "bottom-left", "title": null, "labelExpr": "datum.label + '_AccDamageRate'"}}
   }},
  {"mark": {"type": "rule", "opacity": 0},
   "encoding": {
    "x": {"aggregate": "min", "field": "e", "type": "quantitative", "scale": {"domain": [-10.95, 229.95], "nice": false, "zero": false}, "axis": {"orient": "bottom", "title": "(b) incident damage rate rate_f", "labels": false, "ticks": false, "domain": false, "titleFont": "Liberation Serif", "titleFontSize": 17, "titleColor": "#111111", "titlePadding": 50}}
   }}
 ]
},
{
 "width": 357, "height": 266,
 "title": "rewards",
 "data": {"name": "rew"},
 "resolve": {"axis": {"x": "independent"}},
 "layer": [
  {"mark": {"type": "line", "strokeWidth": 1.4},
   "encoding": {
    "x": {"field": "e", "type": "quantitative", "scale": {"domain": [-10.95, 229.95], "nice": false, "zero": false}, "axis": {"values": [0, 50, 100, 150, 200], "title": "every 50 episode", "titlePadding": 3}},
    "y": {"field": "v", "type": "quantitative", "scale": {"domain": [-10790, -1500], "nice": false, "zero": false}, "axis": {"values": [-10000, -8000, -6000, -4000, -2000], "format": "d", "title": "reward", "titlePadding": 8}},
    "color": {"field": "s", "type": "nominal", "scale": {"domain": ["pre", "maddpg"], "range": ["#1f77b4", "#ff7f0e"]}, "legend": {"orient": "top-left", "title": null, "labelExpr": "datum.label + '_rewards'"}}
   }},
  {"mark": {"type": "rule", "opacity": 0},
   "encoding": {
    "x": {"aggregate": "min", "field": "e", "type": "quantitative", "scale": {"domain": [-10.95, 229.95], "nice": false, "zero": false}, "axis": {"orient": "bottom", "title": "(c) reward r", "labels": false, "ticks": false, "domain": false, "titleFont": "Liberation Serif", "titleFontSize": 17, "titleColor": "#111111", "titlePadding": 50}}
   }}
 ]
}
]
}
